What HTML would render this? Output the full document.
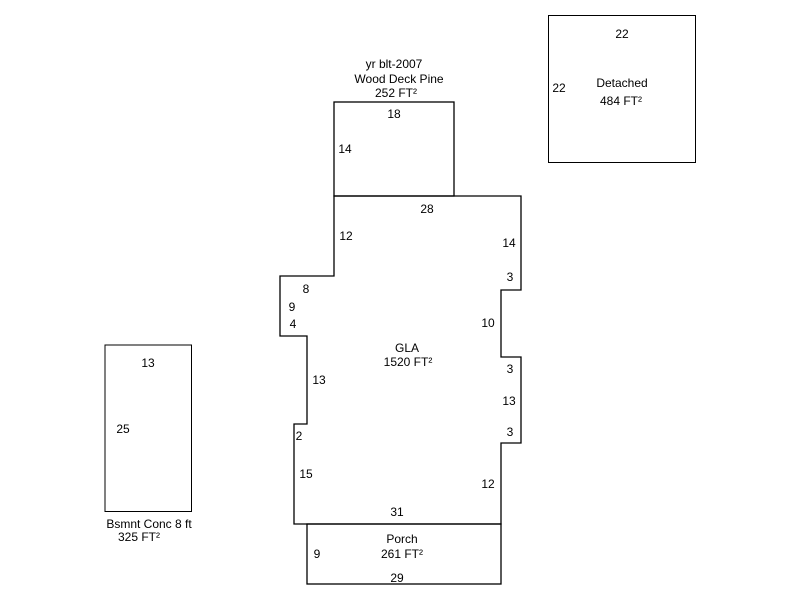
<!DOCTYPE html>
<html><head><style>
html,body{margin:0;padding:0;background:#fff;}
svg{display:block;}
text{font-family:"Liberation Sans",Arial,sans-serif;font-size:12px;fill:#000;text-anchor:middle;}
</style></head><body>
<svg width="800" height="600" viewBox="0 0 800 600" xmlns="http://www.w3.org/2000/svg">
<g fill="none" stroke="#000" stroke-width="1.3">
<rect x="548.5" y="15.5" width="147" height="147" stroke-width="1"/>
<rect x="105" y="345" width="86.5" height="166.5" stroke-width="1"/>
<rect x="334" y="102" width="120" height="94"/>
<polygon points="334,196 521,196 521,290 501,290 501,357 521,357 521,443 501,443 501,524 294,524 294,424 307,424 307,336 280,336 280,276 334,276"/>
<rect x="307" y="524" width="194" height="60"/>
</g>
<text x="622" y="38">22</text>
<text x="559" y="92">22</text>
<text x="622" y="87">Detached</text>
<text x="621" y="105">484 FT²</text>
<text x="394" y="68">yr blt-2007</text>
<text x="399" y="83">Wood Deck Pine</text>
<text x="396" y="97">252 FT²</text>
<text x="394" y="118">18</text>
<text x="345" y="153">14</text>
<text x="427" y="213">28</text>
<text x="346" y="240">12</text>
<text x="509" y="247">14</text>
<text x="510" y="281">3</text>
<text x="306" y="293">8</text>
<text x="292" y="311">9</text>
<text x="293" y="328">4</text>
<text x="488" y="327">10</text>
<text x="407" y="352">GLA</text>
<text x="408" y="366">1520 FT²</text>
<text x="510" y="373">3</text>
<text x="319" y="384">13</text>
<text x="509" y="405">13</text>
<text x="510" y="436">3</text>
<text x="299" y="440">2</text>
<text x="306" y="478">15</text>
<text x="488" y="488">12</text>
<text x="397" y="516">31</text>
<text x="402" y="543">Porch</text>
<text x="402" y="558">261 FT²</text>
<text x="317" y="558">9</text>
<text x="397" y="582">29</text>
<text x="148" y="367">13</text>
<text x="123" y="433">25</text>
<text x="149" y="528">Bsmnt Conc 8 ft</text>
<text x="139" y="541">325 FT²</text>
</svg>
</body></html>
